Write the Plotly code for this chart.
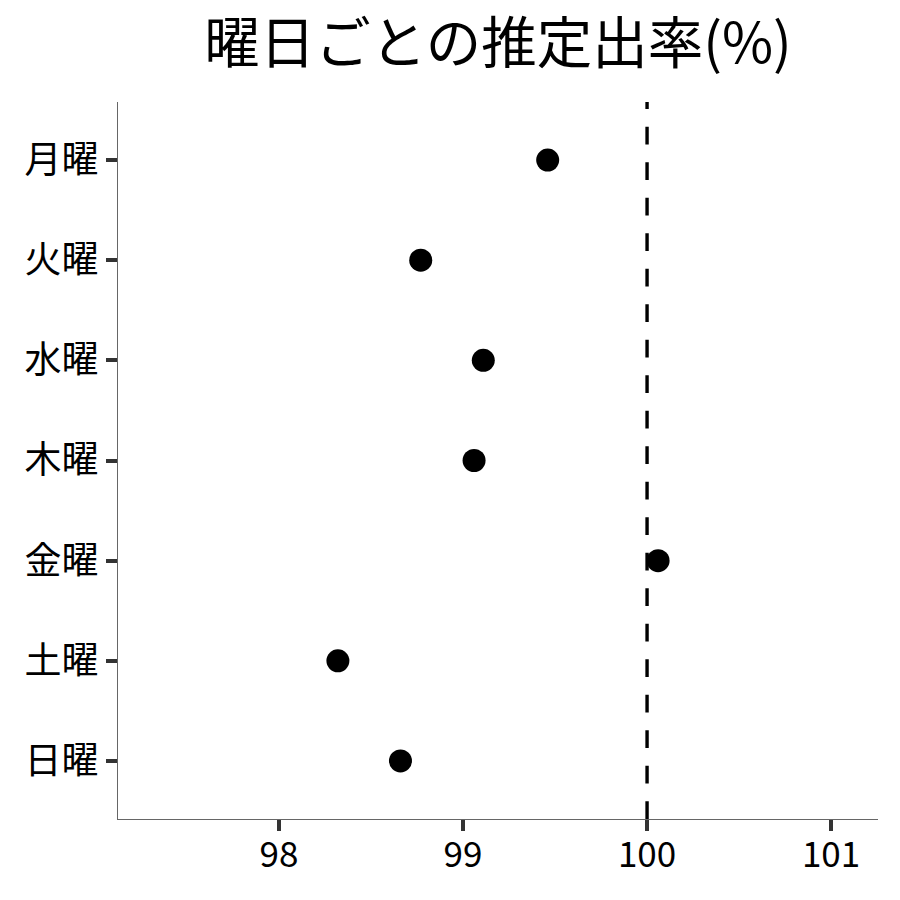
import plotly.graph_objects as go

days = ["月曜", "火曜", "水曜", "木曜", "金曜", "土曜", "日曜"]
rates = [99.46, 98.77, 99.11, 99.06, 100.06, 98.32, 98.66]
ref_value = 100
x_ticks = [98, 99, 100, 101]
title_text = "曜日ごとの推定出率(%)"

FONT = "Noto Sans CJK JP"

fig = go.Figure()
fig.add_trace(go.Scatter(
    x=rates, y=days, mode="markers",
    marker=dict(color="black", size=23, line=dict(width=0)),
    showlegend=False,
))
fig.add_shape(type="line", xref="x", yref="paper", x0=ref_value, x1=ref_value, y0=0, y1=1,
              line=dict(color="black", width=3.4, dash="17.75px,17.75px"), layer="above")

fig.update_layout(
    width=900, height=900,
    paper_bgcolor="white", plot_bgcolor="white",
    margin=dict(l=110, r=30, t=94, b=89),
    font=dict(family=FONT, color="black"),
    title=dict(text=title_text, xref="paper", x=0.5, xanchor="center",
               yref="container", y=0.96, yanchor="middle",
               font=dict(family=FONT, size=55.5, color="black")),
)
fig.update_xaxes(
    range=[97.125, 101.255], tickvals=x_ticks, ticktext=[str(v) for v in x_ticks],
    showgrid=False, zeroline=False, showline=True, linecolor="#666666", linewidth=1.3,
    ticks="outside", ticklen=11, tickwidth=3.5, tickcolor="#333333",
    tickfont=dict(family=FONT, size=35, color="black"),
    ticklabelstandoff=-6,
)
fig.update_yaxes(
    type="category", categoryorder="array", categoryarray=days,
    range=[6.58, -0.58],
    showgrid=False, zeroline=False, showline=True, linecolor="#666666", linewidth=1.3,
    ticks="outside", ticklen=11, tickwidth=3.5, tickcolor="#333333",
    tickfont=dict(family=FONT, size=37, color="black"),
)

fig.write_html("out.html")
